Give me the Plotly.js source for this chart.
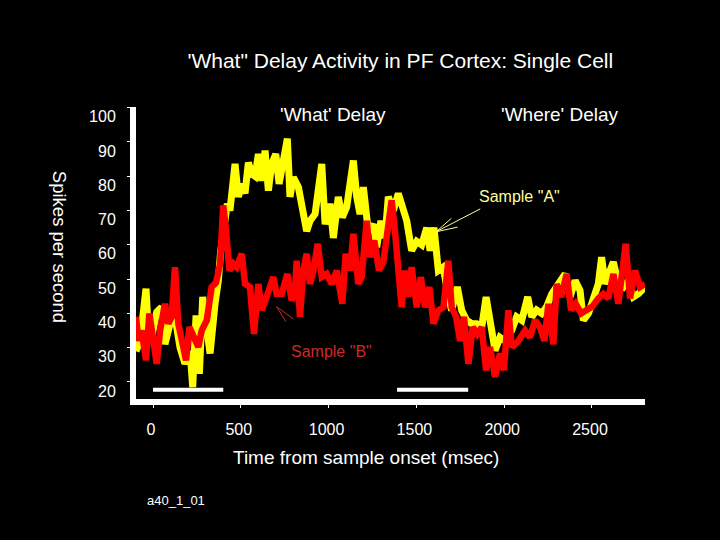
<!DOCTYPE html>
<html>
<head>
<meta charset="utf-8">
<script src="https://cdn.plot.ly/plotly-3.0.1.min.js"></script>
<style>html,body{margin:0;padding:0;background:#000;}#chart{width:720px;height:540px;}</style>
</head>
<body>
<div id="chart"></div>
<script>
// Sample "A" (yellow) — time (ms) and firing rate (spikes/s)
var timeA = [-97,-74,-40,-27,-8,21,49,68,97,125,154,182,211,226,245,264,283,302,325,353,372,385,404,423,438,467,486,505,524,543,562,581,600,619,638,657,676,699,718,742,765,780,799,828,856,875,894,923,961,980,1008,1027,1055,1078,1103,1141,1160,1179,1198,1226,1255,1274,1298,1321,1340,1369,1397,1416,1445,1473,1502,1530,1559,1578,1600,1625,1653,1682,1701,1733,1758,1786,1815,1843,1872,1897,1919,1948,1976,2005,2043,2071,2100,2134,2157,2185,2214,2242,2271,2299,2328,2347,2375,2404,2432,2451,2480,2508,2536,2555,2574,2603,2622,2650,2679,2707,2736,2764,2802];
var rateA = [29,32,47.2,35,33,40.4,41.8,31,37,39,30,25.3,29,18.5,39.4,22.4,44.8,35,28.3,42.8,49.6,58,64,72,70,83.6,74,77.8,75,84,80.7,80,86.5,78.7,87.5,75.8,83.6,86.5,77.8,83.6,91,74,79.7,76.8,69,64,67,69,83.6,66,72,62,74,68,71,84.6,74,69,76.8,64,66,59.3,67,62,74,70,75,71,67,58.3,61,60,65,58.3,65,52.5,53.5,44.8,40.9,47.7,40.9,38,37,37,36,44.8,37,29.2,33,32,35,39,38,44.8,39,41,40,42,45.7,47.7,50.6,51.5,44.8,49.6,46.7,38,40,44.8,48.6,56.4,48.6,52.5,55,48.6,47.7,49.6,44.8,45.7,47.7];

// Sample "B" (red)
var timeB = [-97,-83,-65,-40,-21,-2,21,40,68,87,106,125,144,169,188,207,233,258,277,306,334,359,382,400,416,435,457,476,505,524,552,575,600,619,647,685,704,733,765,790,809,818,837,856,875,894,913,938,961,989,1018,1046,1078,1097,1122,1141,1169,1188,1217,1236,1260,1287,1312,1331,1359,1378,1397,1416,1435,1454,1473,1502,1525,1549,1574,1597,1625,1654,1682,1701,1726,1749,1771,1796,1821,1847,1872,1897,1919,1948,1976,1998,2024,2043,2081,2119,2147,2176,2204,2229,2252,2280,2299,2324,2356,2381,2407,2438,2470,2502,2536,2565,2593,2622,2650,2669,2692,2717,2745,2774,2802];
var rateB = [39,32,35,26.3,40,34,25.3,35,42.8,37,39,53.5,37,31,26.3,36,33,30.2,35,38,47.7,49,54.5,71.5,64,52.5,54.5,53.5,57.4,48.6,47.7,34,48.6,41,44.8,50.6,45.7,45.7,51.5,43.8,46.7,55.4,39,52.5,57.4,48.6,52.5,60.3,50.6,51.5,48.6,52.5,42.8,57.4,52.5,63.2,48.6,50.6,67,56.4,61.3,52.5,55,61.3,73,64,52.5,41.8,52.5,44.8,53.5,41.8,50.6,41.8,47.7,37,40.9,41.8,55.4,41.8,39,32,39,25.3,36,34,36,23.4,30.2,21.5,28.3,23.4,40.9,30.2,32,35,33,38,36,32,42.8,31,48.6,44.8,51.5,41,42.8,40,41,42,44.4,45.7,44.4,51.5,42.8,49.6,60.3,44.4,52.5,47.7,48.6];

// Sample presentation periods (ms)
var sampleStart = [0, 1390];
var sampleEnd = [400, 1795];
var sampleLevel = 17.75;

var xTicks = [0, 500, 1000, 1500, 2000, 2500];
var yTicks = [20, 30, 40, 50, 60, 70, 80, 90, 100];

var barX = [], barY = [];
for (var i = 0; i < sampleStart.length; i++) {
  barX.push(sampleStart[i], sampleEnd[i], null);
  barY.push(sampleLevel, sampleLevel, null);
}

var traces = [
  {x: timeA, y: rateA, type: 'scatter', mode: 'lines', name: 'Sample "A"',
   line: {color: '#ffff00', width: 7}},
  {x: timeB, y: rateB, type: 'scatter', mode: 'lines', name: 'Sample "B"',
   line: {color: '#ff0000', width: 6.5}},
  {x: barX, y: barY, type: 'scatter', mode: 'lines', name: 'Sample period',
   line: {color: '#ffffff', width: 4}, connectgaps: false}
];

var white = '#ffffff';
var font = 'Arial, "Liberation Sans", sans-serif';

function label(text, x, y, size, color, extra) {
  var a = {text: text, xref: 'paper', yref: 'paper', x: x, y: y,
           xanchor: 'center', yanchor: 'middle', showarrow: false,
           font: {family: font, size: size, color: color}};
  if (extra) { for (var k in extra) a[k] = extra[k]; }
  return a;
}
function arrowLine(x, y, ax, ay, color) {
  return {text: '', x: x, y: y, xref: 'x', yref: 'y', showarrow: true, arrowhead: 0,
          ax: ax, ay: ay, arrowcolor: color, arrowwidth: 1};
}

var layout = {
  width: 720, height: 540,
  paper_bgcolor: '#000000', plot_bgcolor: '#000000',
  showlegend: false,
  margin: {l: 136, r: 75, t: 107, b: 141, pad: 0},
  font: {family: font, color: white, size: 16},
  title: {text: '\'What" Delay Activity in PF Cortex: Single Cell',
          font: {family: font, size: 21, color: white},
          x: 0.556, xanchor: 'center', xref: 'container',
          y: 0.887, yanchor: 'middle', yref: 'container'},
  xaxis: {range: [-97, 2802], tickvals: xTicks, ticktext: xTicks.map(String),
          showline: true, linecolor: white, linewidth: 6, mirror: false,
          ticks: 'outside', ticklen: 3, tickcolor: white, tickwidth: 1,
          showgrid: false, zeroline: false,
          tickfont: {family: font, size: 16, color: white},
          ticklabelstandoff: 8, ticklabelshift: -2},
  yaxis: {range: [15.04, 100.2], tickvals: yTicks, ticktext: yTicks.map(String),
          showline: true, linecolor: white, linewidth: 6,
          ticks: 'outside', ticklen: 3, tickcolor: white, tickwidth: 1,
          showgrid: false, zeroline: false,
          tickfont: {family: font, size: 16, color: white},
          ticklabelstandoff: 8, ticklabelshift: 9},
  annotations: [
    label('\'What\' Delay', 0.387, 0.976, 19, white),
    label('\'Where\' Delay', 0.833, 0.976, 19, white),
    label('Time from sample onset (msec)', 0.452, -0.202, 19, white),
    label('Spikes per second', -0.149, 0.5205, 18.5, white, {textangle: 90}),
    label('a40_1_01', 0.0786, -0.346, 13, white),
    label('Sample "A"', 0.7544, 0.6928, 16, '#ffff99'),
    label('Sample "B"', 0.385, 0.161, 16, '#cc2a2a'),
    arrowLine(1612, 63.8, 45.7, -23.7, '#ffff99'),
    arrowLine(1612, 63.8, 16.7, -14.7, '#ffff99'),
    arrowLine(1612, 63.8, 23, -5, '#ffff99'),
    arrowLine(704, 41.95, 36.3, 33.3, '#cc2a2a'),
    arrowLine(704, 41.95, 10, 16.3, '#cc2a2a'),
    arrowLine(704, 41.95, 18.3, 13.3, '#cc2a2a')
  ]
};

Plotly.newPlot('chart', traces, layout, {displayModeBar: false, staticPlot: true});
</script>
</body>
</html>
